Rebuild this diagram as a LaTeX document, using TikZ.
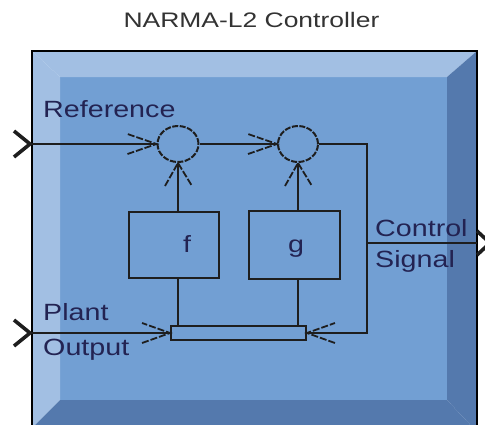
\documentclass[tikz,border=0pt]{standalone}
\usepackage{fontspec}
\setmainfont{Liberation Sans}
\newfontfamily\lblfont[FakeStretch=1.22]{Liberation Sans}
\newfontfamily\ttlfont[FakeStretch=1.26]{Liberation Sans}
\usetikzlibrary{shapes.geometric}
\definecolor{faceblue}{HTML}{729FD3}
\definecolor{lightblue}{HTML}{A2BFE3}
\definecolor{darkblue}{HTML}{5479AD}
\definecolor{wire}{HTML}{1E1E1E}
\definecolor{lbl}{HTML}{232352}
\definecolor{ttl}{HTML}{333333}
\tikzset{
  wireline/.style={draw=wire, line width=1.9pt},
  sumnode/.style={ellipse, draw=wire, line width=2pt, dash pattern=on 6pt off 1.5pt, inner sep=0pt, minimum width=41pt, minimum height=36pt},
  blocknode/.style={rectangle, draw=wire, line width=1.9pt, inner sep=0pt},
  barbline/.style={draw=wire, line width=1.8pt, dash pattern=on 7pt off 2pt},
  chevron/.style={draw=wire, line width=3.6pt, miter limit=10},
  lbltext/.style={inner sep=0pt, text=lbl, font=\fontsize{23.5}{26}\lblfont},
}
\begin{document}
\begin{tikzpicture}[x=1pt, y=-1pt]
\useasboundingbox (0,0) rectangle (485,424);
% bevelled block
\fill[faceblue] (60,77) rectangle (447,400);
\fill[lightblue] (32,51) -- (477,51) -- (447,77) -- (60,77) -- cycle;
\fill[lightblue] (32,51) -- (60,77) -- (60,400) -- (32,428) -- cycle;
\fill[darkblue] (477,51) -- (477,432) -- (447,400) -- (447,77) -- cycle;
\fill[darkblue] (60,400) -- (447,400) -- (477,432) -- (32,428) -- cycle;
\draw[draw=black, line width=1.6pt] (32,430) -- (32,51) -- (477,51) -- (477,430);
% title
\node[anchor=base, inner sep=0pt, text=ttl, font=\fontsize{21}{24}\ttlfont] (title) at (251.5,27) {NARMA-L2 Controller};
% nodes
\node[sumnode] (s1) at (178,144) {};
\node[sumnode, minimum width=40pt] (s2) at (298,144) {};
\node[blocknode, minimum width=90pt, minimum height=66pt] (f) at (174,245) {};
\node[blocknode, minimum width=91pt, minimum height=68pt] (g) at (294.5,245) {};
\node[blocknode, minimum width=135pt, minimum height=14pt] (bar) at (238.5,333) {};
\node[lbltext, anchor=base] (flbl) at (187,252) {f};
\node[lbltext, anchor=base] (glbl) at (296,252) {g};
\coordinate (inR) at (32,144);
\coordinate (inP) at (32,333);
\coordinate (outC) at (477,243);
\coordinate (c1) at (367,144);
\coordinate (c2) at (367,333);
\coordinate (c3) at (367,243);
% connectors
\draw[wireline] (inR) -- (s1.west);
\draw[wireline] (s1.east) -- (s2.west);
\draw[wireline] (s1.south) -- (s1.south |- f.north);
\draw[wireline] (s2.south) -- (s2.south |- g.north);
\draw[wireline] (s1.south |- f.south) -- (s1.south |- bar.north);
\draw[wireline] (s2.south |- g.south) -- (s2.south |- bar.north);
\draw[wireline] (inP) -- (bar.west);
\draw[wireline] (s2.east) -- (c1) -- (c2) -- (bar.east);
\draw[wireline] (c3) -- (outC);
% barbs
\draw[barbline] ([xshift=-29pt,yshift=-10pt]s1.west) -- (s1.west) -- ([xshift=-29pt,yshift=10pt]s1.west);
\draw[barbline] ([xshift=-29pt,yshift=-10pt]s2.west) -- (s2.west) -- ([xshift=-29pt,yshift=10pt]s2.west);
\draw[barbline] ([xshift=-13pt,yshift=-23pt]s1.south) -- (s1.south) -- ([xshift=14pt,yshift=-23pt]s1.south);
\draw[barbline] ([xshift=-13pt,yshift=-23pt]s2.south) -- (s2.south) -- ([xshift=14pt,yshift=-23pt]s2.south);
\draw[barbline] ([xshift=-28pt,yshift=-10pt]bar.west) -- (bar.west) -- ([xshift=-28pt,yshift=10pt]bar.west);
\draw[barbline] ([xshift=28pt,yshift=-10pt]bar.east) -- (bar.east) -- ([xshift=28pt,yshift=10pt]bar.east);
% ports
\draw[chevron] (14,131) -- (30,144) -- (14,157);
\draw[chevron] (14,320) -- (30,333) -- (14,346);
\draw[chevron] (477,231) -- (490,243) -- (477,255);
% labels
\node[lbltext, anchor=base west] (ref) at (43,117) {Reference};
\node[lbltext, anchor=base west] (plant) at (43,320) {Plant};
\node[lbltext, anchor=base west] (outp) at (43,355) {Output};
\node[lbltext, anchor=base west] (ctrl) at (375,236) {Control};
\node[lbltext, anchor=base west] (sig) at (375,267) {Signal};
\end{tikzpicture}
\end{document}
